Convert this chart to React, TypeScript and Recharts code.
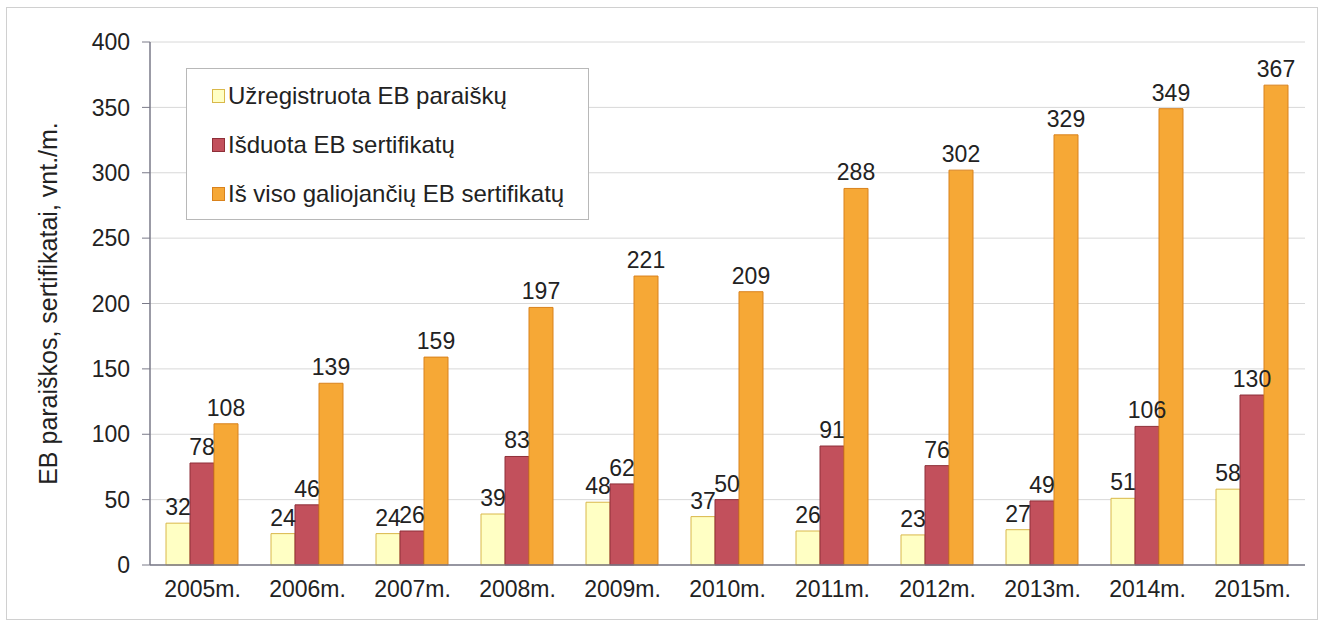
import React from 'react';
import { BarChart, Bar, XAxis, YAxis, CartesianGrid, LabelList } from 'recharts';

const years = ['2005m.', '2006m.', '2007m.', '2008m.', '2009m.', '2010m.', '2011m.', '2012m.', '2013m.', '2014m.', '2015m.'];
const registered = [32, 24, 24, 39, 48, 37, 26, 23, 27, 51, 58];
const issued = [78, 46, 26, 83, 62, 50, 91, 76, 49, 106, 130];
const valid = [108, 139, 159, 197, 221, 209, 288, 302, 329, 349, 367];
const yTicks = [0, 50, 100, 150, 200, 250, 300, 350, 400];

const seriesInfo = [
  { key: 'registered', name: 'Užregistruota EB paraiškų', fill: '#FFFFC4', stroke: '#D9B84A' },
  { key: 'issued', name: 'Išduota EB sertifikatų', fill: '#C2505C', stroke: '#8E2F38' },
  { key: 'valid', name: 'Iš viso galiojančių EB sertifikatų', fill: '#F6A836', stroke: '#D9821C' },
];

const data = years.map((y, i) => ({
  year: y,
  registered: registered[i],
  issued: issued[i],
  valid: valid[i],
}));

const font = '"Liberation Sans", Arial, sans-serif';

const LegendBox = () => (
  <div
    style={{
      position: 'absolute',
      left: 186,
      top: 68,
      width: 403,
      height: 152,
      border: '1px solid #b8b8b8',
      background: '#fff',
      fontFamily: font,
      fontSize: 24,
      color: '#222',
      boxSizing: 'border-box',
      paddingTop: 2,
      paddingLeft: 25,
      zIndex: 2,
    }}
  >
    {seriesInfo.map((s) => (
      <div key={s.key} style={{ display: 'flex', alignItems: 'center', height: 49 }}>
        <span
          style={{
            display: 'inline-block',
            width: 11,
            height: 12,
            background: s.fill,
            border: `1px solid ${s.stroke}`,
            marginRight: 3,
          }}
        />
        <span>{s.name}</span>
      </div>
    ))}
  </div>
);

export default function App() {
  return (
    <div style={{ position: 'absolute', left: 0, top: 0, width: 1324, height: 630, background: '#fff' }}>
      <div
        style={{
          position: 'absolute',
          left: 6,
          top: 7,
          width: 1312,
          height: 613,
          border: '1px solid #d0d0d0',
          boxSizing: 'border-box',
        }}
      />
      <BarChart
        width={1324}
        height={630}
        data={data}
        margin={{ top: 42, right: 19, left: 0, bottom: 0 }}
        barCategoryGap={16}
        barGap={0}
        style={{ fontFamily: font }}
      >
        <CartesianGrid vertical={false} stroke="#d8d8d8" />
        <XAxis
          dataKey="year"
          tickLine={false}
          axisLine={{ stroke: '#7a7a88', strokeWidth: 1.5 }}
          tick={{ fontSize: 23, fill: '#222' }}
          tickMargin={10}
          height={65}
        />
        <YAxis
          domain={[0, 400]}
          ticks={yTicks}
          width={150}
          tickSize={8}
          tickMargin={12}
          axisLine={{ stroke: '#7a7a88', strokeWidth: 1.5 }}
          tickLine={{ stroke: '#7a7a88' }}
          tick={{ fontSize: 23, fill: '#222' }}
          label={{
            value: 'EB paraiškos, sertifikatai, vnt./m.',
            angle: -90,
            position: 'insideLeft',
            offset: 48,
            style: { textAnchor: 'middle', fontSize: 25, fill: '#222' },
          }}
        />
        {seriesInfo.map((s) => (
          <Bar
            key={s.key}
            dataKey={s.key}
            name={s.name}
            fill={s.fill}
            stroke={s.stroke}
            strokeWidth={1}
            isAnimationActive={false}
          >
            <LabelList dataKey={s.key} position="top" offset={8} style={{ fontSize: 23, fill: '#222' }} />
          </Bar>
        ))}
      </BarChart>
      <LegendBox />
    </div>
  );
}
